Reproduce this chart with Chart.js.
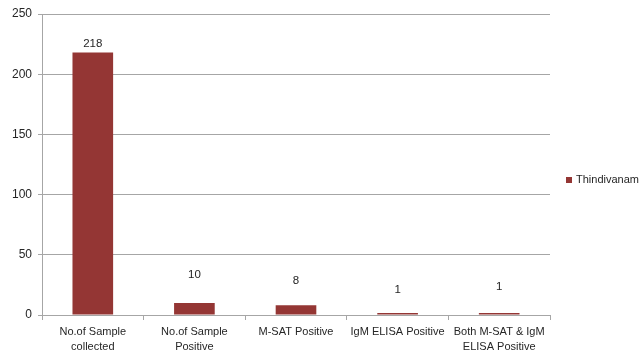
<!DOCTYPE html>
<html><head><meta charset="utf-8">
<script src="https://cdn.jsdelivr.net/npm/chart.js@4/dist/chart.umd.min.js"></script>
<style>html,body{margin:0;padding:0;background:#fff}#wrap{width:643px;height:354px}</style>
</head><body><div id="wrap"><canvas id="c" width="643" height="354"></canvas></div>
<script>
const categories = [["No.of Sample","collected"],["No.of Sample","Positive"],"M-SAT Positive","IgM ELISA Positive",["Both M-SAT & IgM","ELISA Positive"]];
const seriesName = "Thindivanam";
const values = [218, 10, 8, 1, 1];
const yTicks = [0, 50, 100, 150, 200, 250];
const labelLift = [6, 25, 21, 20, 23];

const FONT = "'Liberation Sans', sans-serif";
const BAR = '#943634';
const TXT = '#262626';

const labelPlugin = {
  id: 'lbl',
  afterDatasetsDraw(chart) {
    const ctx = chart.ctx;
    const meta = chart.getDatasetMeta(0);
    ctx.save();
    ctx.font = '11.5px ' + FONT;
    ctx.fillStyle = TXT;
    ctx.textAlign = 'center';
    ctx.textBaseline = 'alphabetic';
    meta.data.forEach((el, i) => {
      ctx.fillText(String(values[i]), el.x, el.y - labelLift[i]);
    });
    // legend
    const ly = 180;
    ctx.fillStyle = BAR;
    ctx.fillRect(566, ly - 3, 6, 6);
    ctx.fillStyle = TXT;
    ctx.textAlign = 'left';
    ctx.textBaseline = 'middle';
    ctx.font = '11px ' + FONT;
    ctx.fillText(chart.data.datasets[0].label, 576, ly);
    ctx.restore();
  }
};

new Chart(document.getElementById('c'), {
  type: 'bar',
  data: { labels: categories, datasets: [{ label: seriesName, data: values, backgroundColor: BAR, categoryPercentage: 1, barPercentage: 0.40, minBarLength: 2 }] },
  options: {
    responsive: false, animation: false,
    layout: { padding: { top: 14, right: 93, left: 0, bottom: 0 } },
    plugins: { legend: { display: false }, tooltip: { enabled: false } },
    scales: {
      x: {
        afterFit(s) { s.height = 39; },
        grid: { offset: true, drawOnChartArea: false, drawTicks: true, tickLength: 5, color: '#a6a6a6' },
        border: { color: '#a6a6a6' },
        ticks: { color: TXT, font: { family: FONT, size: 11, lineHeight: 1.35 }, maxRotation: 0, autoSkip: false, padding: 5 }
      },
      y: {
        min: 0, max: 250,
        afterFit(s) { s.width = 42; },
        afterBuildTicks(s) { s.ticks = yTicks.map(v => ({ value: v })); },
        grid: { color: '#a6a6a6', tickLength: 4 },
        border: { color: '#a6a6a6' },
        ticks: { color: TXT, font: { family: FONT, size: 12 }, padding: 6 }
      }
    }
  },
  plugins: [labelPlugin]
});
</script></body></html>
